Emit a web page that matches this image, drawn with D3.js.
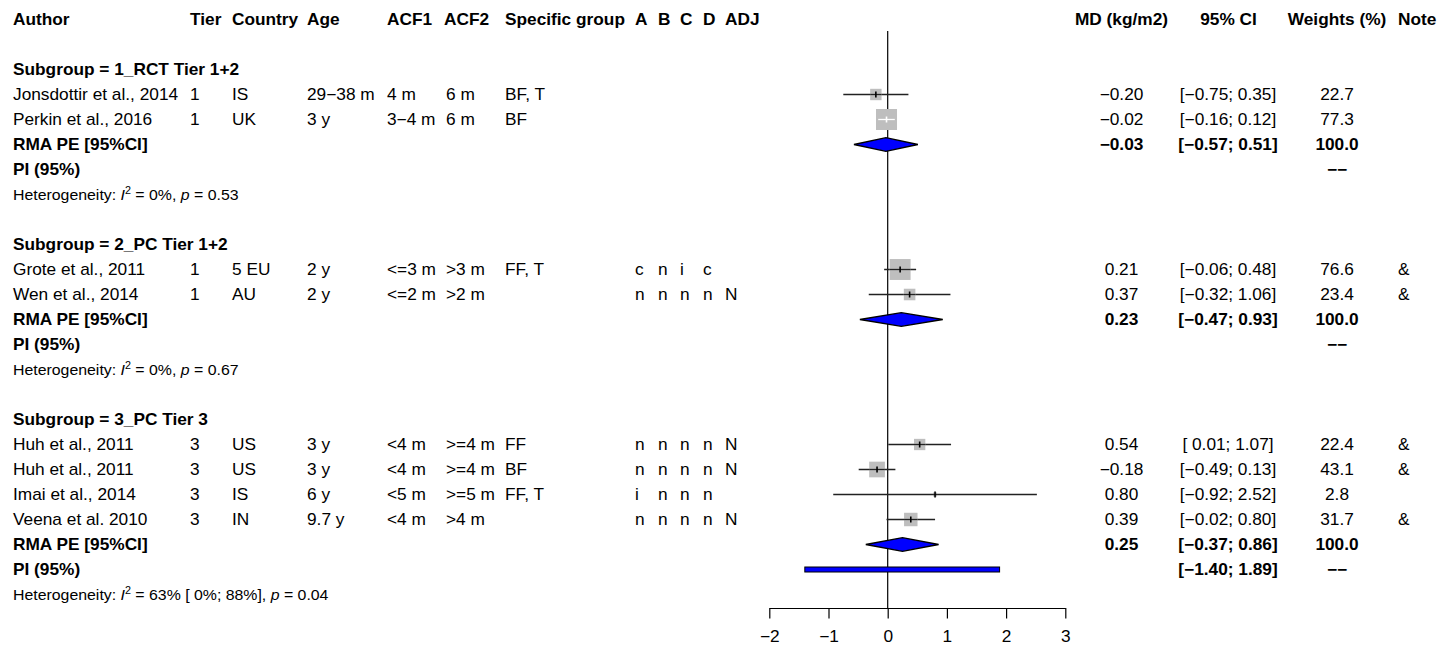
<!DOCTYPE html>
<html>
<head>
<meta charset="utf-8">
<script src="https://cdn.jsdelivr.net/npm/d3@7"></script>
<style>
  body { margin: 0; background: #fff; }
  svg { font-family: "Liberation Sans", Arial, Helvetica, sans-serif; }
</style>
</head>
<body>
<script>
// Study level data
const subgroups = ["1_RCT Tier 1+2", "2_PC Tier 1+2", "3_PC Tier 3"];
const studySubgroup = [0, 0, 1, 1, 2, 2, 2, 2];
const authors = ["Jonsdottir et al., 2014", "Perkin et al., 2016", "Grote et al., 2011", "Wen et al., 2014",
                 "Huh et al., 2011", "Huh et al., 2011", "Imai et al., 2014", "Veena et al. 2010"];
const tiers = ["1", "1", "1", "1", "3", "3", "3", "3"];
const countries = ["IS", "UK", "5 EU", "AU", "US", "US", "IS", "IN"];
const ages = ["29−38 m", "3 y", "2 y", "2 y", "3 y", "3 y", "6 y", "9.7 y"];
const acf1 = ["4 m", "3−4 m", "<=3 m", "<=2 m", "<4 m", "<4 m", "<5 m", "<4 m"];
const acf2 = ["6 m", "6 m", ">3 m", ">2 m", ">=4 m", ">=4 m", ">=5 m", ">4 m"];
const specificGroup = ["BF, T", "BF", "FF, T", "", "FF", "BF", "FF, T", ""];
const riskA = ["", "", "c", "n", "n", "n", "i", "n"];
const riskB = ["", "", "n", "n", "n", "n", "n", "n"];
const riskC = ["", "", "i", "n", "n", "n", "n", "n"];
const riskD = ["", "", "c", "n", "n", "n", "n", "n"];
const adj = ["", "", "", "N", "N", "N", "", "N"];
const md = [-0.20, -0.02, 0.21, 0.37, 0.54, -0.18, 0.80, 0.39];
const ciLower = [-0.75, -0.16, -0.06, -0.32, 0.01, -0.49, -0.92, -0.02];
const ciUpper = [0.35, 0.12, 0.48, 1.06, 1.07, 0.13, 2.52, 0.80];
const weights = [22.7, 77.3, 76.6, 23.4, 22.4, 43.1, 2.8, 31.7];
const notes = ["", "", "&", "&", "&", "&", "", "&"];

// Subgroup summaries
const pooledMd = [-0.03, 0.23, 0.25];
const pooledLower = [-0.57, -0.47, -0.37];
const pooledUpper = [0.51, 0.93, 0.86];
const piLower = [null, null, -1.40];
const piUpper = [null, null, 1.89];
const hetI2 = ["0%", "0%", "63% [ 0%; 88%]"];
const hetP = ["0.53", "0.67", "0.04"];

const xTicks = [-2, -1, 0, 1, 2, 3];

const W = 1440, H = 647;
const SX = 1.08; // the original is slightly stretched horizontally

const svg = d3.select("body").append("svg")
    .attr("width", W)
    .attr("height", H);

// number formatting like R's meta package
const minus = v => (v < 0 ? "−" : "") + Math.abs(v).toFixed(2);
const lowFmt = v => (v < 0 ? "−" : " ") + Math.abs(v).toFixed(2);
const ciFmt = (lo, hi) => `[${lowFmt(lo)}; ${minus(hi)}]`;

// build a table from the arrays and work out the row of each line
const studies = authors.map((a, i) => ({
    author: a, tier: tiers[i], country: countries[i], age: ages[i], acf1: acf1[i], acf2: acf2[i],
    group: specificGroup[i], a: riskA[i], b: riskB[i], c: riskC[i], d: riskD[i], adj: adj[i],
    md: md[i], lo: ciLower[i], hi: ciUpper[i], w: weights[i], note: notes[i], sub: studySubgroup[i]
}));

const titleRow = [], pooledRow = [], piRow = [], hetRow = [];
let r = 2;
subgroups.forEach((s, k) => {
    titleRow[k] = r++;
    studies.filter(d => d.sub === k).forEach(d => d.row = r++);
    pooledRow[k] = r++;
    piRow[k] = r++;
    hetRow[k] = r++;
    r++;
});

// scales
const y = d3.scaleLinear().domain([0, 1]).range([19.5, 44.5]);
const x = d3.scaleLinear().domain([-2, 3]).range([769.3, 1065.3]);
const size = d3.scaleSqrt().domain([0, 100]).range([0, 23.9]);

function label(px, py, str, opts = {}) {
    return svg.append("text")
        .attr("transform", `translate(${px},${py}) scale(${SX},1)`)
        .attr("dy", "0.36em")
        .attr("text-anchor", opts.anchor || "start")
        .attr("font-weight", opts.bold ? "bold" : null)
        .attr("font-size", opts.size || 16)
        .style("white-space", "pre")
        .text(str);
}

// left columns: header x and value x
const leftCols = [
    {key: "author", head: "Author", hx: 13, vx: 13},
    {key: "tier", head: "Tier", hx: 190, vx: 190},
    {key: "country", head: "Country", hx: 232, vx: 232},
    {key: "age", head: "Age", hx: 307, vx: 307},
    {key: "acf1", head: "ACF1", hx: 387, vx: 387},
    {key: "acf2", head: "ACF2", hx: 444, vx: 446},
    {key: "group", head: "Specific group", hx: 505, vx: 505},
    {key: "a", head: "A", hx: 635, vx: 635},
    {key: "b", head: "B", hx: 658, vx: 658},
    {key: "c", head: "C", hx: 680, vx: 680},
    {key: "d", head: "D", hx: 703, vx: 703},
    {key: "adj", head: "ADJ", hx: 725, vx: 725}
];

// headers
leftCols.forEach(c => label(c.hx, y(0), c.head, {bold: true}));
label(1121.5, y(0), "MD (kg/m2)", {bold: true, anchor: "middle"});
label(1228.5, y(0), "95% CI", {bold: true, anchor: "middle"});
label(1337, y(0), "Weights (%)", {bold: true, anchor: "middle"});
label(1398, y(0), "Note", {bold: true});

// reference line at 0
svg.append("line")
    .attr("x1", x(0)).attr("x2", x(0))
    .attr("y1", 31).attr("y2", 608)
    .attr("stroke", "#000")
    .attr("stroke-width", 1.2);

// study rows text
studies.forEach(d => {
    leftCols.forEach(c => { if (d[c.key]) label(c.vx, y(d.row), d[c.key]); });
    label(1121.5, y(d.row), minus(d.md), {anchor: "middle"});
    label(1228, y(d.row), ciFmt(d.lo, d.hi), {anchor: "middle"});
    label(1337, y(d.row), d.w.toFixed(1), {anchor: "middle"});
    if (d.note) label(1398, y(d.row), d.note);
});

// study marks: CI line, grey square, estimate tick
const st = svg.selectAll("g.study")
    .data(studies)
    .join("g")
    .attr("class", "study");

st.append("line")
    .attr("x1", d => x(d.lo)).attr("x2", d => x(d.hi))
    .attr("y1", d => y(d.row)).attr("y2", d => y(d.row))
    .attr("stroke", "#222")
    .attr("stroke-width", 1.3);

st.append("rect")
    .attr("x", d => x(d.md) - size(d.w) / 2)
    .attr("y", d => y(d.row) - size(d.w) / 2)
    .attr("width", d => size(d.w))
    .attr("height", d => size(d.w))
    .attr("fill", "#bebebe");

// CI fully inside the square is drawn in white, otherwise dark over the square
const inside = d => x(d.lo) >= x(d.md) - size(d.w) / 2 && x(d.hi) <= x(d.md) + size(d.w) / 2;
st.append("line")
    .attr("x1", d => Math.max(x(d.lo), x(d.md) - size(d.w) / 2))
    .attr("x2", d => Math.min(x(d.hi), x(d.md) + size(d.w) / 2))
    .attr("y1", d => y(d.row)).attr("y2", d => y(d.row))
    .attr("stroke", d => inside(d) ? "#fff" : "#222")
    .attr("stroke-width", 1.3);

st.append("line")
    .attr("x1", d => x(d.md)).attr("x2", d => x(d.md))
    .attr("y1", d => y(d.row) - 3).attr("y2", d => y(d.row) + 3)
    .attr("stroke", d => inside(d) ? "#fff" : "#000")
    .attr("stroke-width", 1.6);

// subgroup titles, pooled rows, prediction intervals, heterogeneity
subgroups.forEach((s, k) => {
    label(13, y(titleRow[k]), "Subgroup = " + s, {bold: true});

    label(13, y(pooledRow[k]), "RMA PE [95%CI]", {bold: true});
    label(1121.5, y(pooledRow[k]), minus(pooledMd[k]), {bold: true, anchor: "middle"});
    label(1228, y(pooledRow[k]), ciFmt(pooledLower[k], pooledUpper[k]), {bold: true, anchor: "middle"});
    label(1337, y(pooledRow[k]), "100.0", {bold: true, anchor: "middle"});

    const py = y(pooledRow[k]);
    svg.append("path")
        .attr("d", `M${x(pooledLower[k])},${py} L${x(pooledMd[k])},${py - 6.8} L${x(pooledUpper[k])},${py} L${x(pooledMd[k])},${py + 6.8} Z`)
        .attr("fill", "#0000ff")
        .attr("stroke", "#000")
        .attr("stroke-width", 1.3);

    label(13, y(piRow[k]), "PI (95%)", {bold: true});
    label(1337, y(piRow[k]), "−−", {bold: true, anchor: "middle"});
    if (piLower[k] !== null) {
        label(1228, y(piRow[k]), ciFmt(piLower[k], piUpper[k]), {bold: true, anchor: "middle"});
        svg.append("rect")
            .attr("x", x(piLower[k]))
            .attr("y", y(piRow[k]) - 2.5)
            .attr("width", x(piUpper[k]) - x(piLower[k]))
            .attr("height", 5)
            .attr("fill", "#0000ff")
            .attr("stroke", "#000")
            .attr("stroke-width", 1);
    }

    // heterogeneity line with italic I^2 and p
    const t = svg.append("text")
        .attr("transform", `translate(13,${y(hetRow[k])}) scale(${SX},1)`)
        .attr("dy", "0.36em")
        .attr("font-size", 14.7)
        .style("white-space", "pre");
    t.append("tspan").text("Heterogeneity: ");
    t.append("tspan").attr("font-style", "italic").text("I");
    t.append("tspan").attr("font-size", 10).attr("dy", -6).text("2");
    t.append("tspan").attr("dy", 6).text(` = ${hetI2[k]}, `);
    t.append("tspan").attr("font-style", "italic").text("p");
    t.append("tspan").text(` = ${hetP[k]}`);
});

// x axis
const axis = svg.append("g")
    .attr("transform", "translate(0,608)")
    .call(d3.axisBottom(x)
        .tickValues(xTicks)
        .tickSize(10.5)
        .tickSizeOuter(0)
        .tickPadding(12)
        .tickFormat(d => d < 0 ? "−" + Math.abs(d) : d));
axis.select(".domain").attr("stroke-width", 1.2);
axis.selectAll(".tick line").attr("stroke-width", 1.2);
axis.selectAll("text")
    .attr("font-size", 16)
    .attr("font-family", "Liberation Sans, Arial, sans-serif")
    .attr("transform", `scale(${SX},1)`);
</script>
</body>
</html>
